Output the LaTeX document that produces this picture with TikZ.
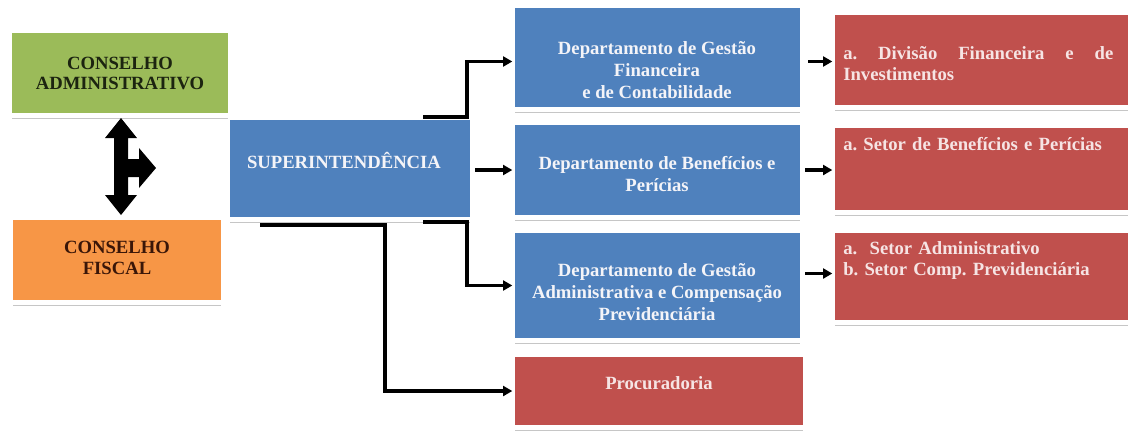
\documentclass[tikz,border=0pt]{standalone}
\usepackage{fontspec}
\setmainfont{Liberation Serif}
\usetikzlibrary{arrows.meta,calc}
\definecolor{cgreen}{HTML}{9BBB59}
\definecolor{corange}{HTML}{F79646}
\definecolor{cblue}{HTML}{4F81BD}
\definecolor{cred}{HTML}{C0504D}
\definecolor{ctextlight}{HTML}{F4F4F8}
\definecolor{ctextpink}{HTML}{F6E4E4}
\definecolor{cdarkgreen}{HTML}{1C2410}
\definecolor{cdarkbrown}{HTML}{3A1608}
\hyphenpenalty=10000
\exhyphenpenalty=10000
\frenchspacing
\begin{document}
\begin{tikzpicture}[x=0.75pt,y=-0.75pt,
  box/.style={rectangle, inner sep=0pt, outer sep=0pt},
  txt/.style={inner sep=0pt, font=\bfseries\fontsize{14}{16.5}\selectfont, align=center},
  rtxt/.style={inner sep=0pt, anchor=north west, text width=270*0.75pt,
     font=\bfseries\fontsize{14}{16}\selectfont, align=justify, text=ctextpink},
  conn/.style={line width=2.3pt, -{Triangle[length=7pt,width=7.5pt]}, shorten >=2pt},
  shadowline/.style={draw=gray!45, line width=1.2pt}
]
\useasboundingbox (0,0) rectangle (1131,430);

% boxes
\node[box, fill=cgreen, minimum width=216*0.75pt, minimum height=80*0.75pt] (ca) at (120,73) {};
\node[box, fill=corange, minimum width=208*0.75pt, minimum height=80*0.75pt] (cf) at (117,260) {};
\node[box, fill=cblue, minimum width=240*0.75pt, minimum height=97*0.75pt] (sup) at (350,168.5) {};
\node[box, fill=cblue, minimum width=285*0.75pt, minimum height=99*0.75pt] (d1) at (657.5,57.5) {};
\node[box, fill=cblue, minimum width=285*0.75pt, minimum height=90*0.75pt] (d2) at (657.5,170) {};
\node[box, fill=cblue, minimum width=285*0.75pt, minimum height=105*0.75pt] (d3) at (657.5,285.5) {};
\node[box, fill=cred, minimum width=288*0.75pt, minimum height=68*0.75pt] (proc) at (659,391) {};
\node[box, fill=cred, minimum width=293*0.75pt, minimum height=90*0.75pt] (r1) at (981.5,60) {};
\node[box, fill=cred, minimum width=293*0.75pt, minimum height=82*0.75pt] (r2) at (981.5,169) {};
\node[box, fill=cred, minimum width=293*0.75pt, minimum height=87*0.75pt] (r3) at (981.5,276.5) {};

% shadow lines under boxes
\foreach \n in {ca,cf,sup,d1,d2,d3,proc,r1,r2,r3}
  \draw[shadowline] ([yshift=-4pt]\n.south west) -- ([yshift=-4pt]\n.south east);

% texts
\node[txt, text=cdarkgreen, font=\bfseries\fontsize{14}{15}\selectfont] (cat) at (120,73) {CONSELHO\\ADMINISTRATIVO};
\node[txt, text=cdarkbrown, font=\bfseries\fontsize{14}{16}\selectfont] (cft) at (117,258) {CONSELHO\\FISCAL};
\node[txt, text=ctextlight] (supt) at (344,160) {SUPERINTENDÊNCIA};
\node[txt, text=ctextlight] (d1t) at (657,70) {Departamento de Gestão\\Financeira\\e de Contabilidade};
\node[txt, text=ctextlight] (d2t) at (657,174) {Departamento de Benefícios e\\Perícias};
\node[txt, text=ctextlight] (d3t) at (657,292) {Departamento de Gestão\\Administrativa e Compensação\\Previdenciária};
\node[txt, text=ctextpink] (proct) at (659,383) {Procuradoria};
\node[rtxt] (r1t) at (843,46) {a. Divisão Financeira e de Investimentos};
\node[rtxt, align=left] (r2t) at (843,137) {a. Setor de Benefícios e Perícias};
\node[rtxt, align=left] (r3t) at (843,241) {a.\ \ Setor Administrativo\\b. Setor Comp. Previdenciária};

% block arrow between councils
\fill[black] (121,118) -- (137,138) -- (128,138) -- (128,159) -- (139,159) -- (139,148)
  -- (156,168) -- (139,188) -- (139,177) -- (128,177) -- (128,195) -- (137,195)
  -- (121,215) -- (105,195) -- (114,195) -- (114,138) -- (105,138) -- cycle;

% connectors
\draw[conn] ($(sup.north east)+(-47,-3)$) -- ++(44,0) |- ([yshift=-3pt]d1.west);
\draw[conn] ($(sup.east)+(5,1.5)$) coordinate (s2) -- (s2 -| d2.west);
\draw[conn] ($(sup.south east)+(-47,5)$) -- ++(44,0) |- (d3.west);
\draw[conn] ($(sup.south west)+(30,8)$) -- ++(125,0) |- (proc.west);
\draw[conn] ($(d1.east)+(8,4)$) coordinate (a1) -- (a1 -| r1.west);
\draw[conn] ($(d2.east)+(5,0)$) coordinate (a2) -- (a2 -| r2.west);
\draw[conn] ($(d3.east)+(5,-12)$) coordinate (a3) -- (a3 -| r3.west);
\end{tikzpicture}
\end{document}
